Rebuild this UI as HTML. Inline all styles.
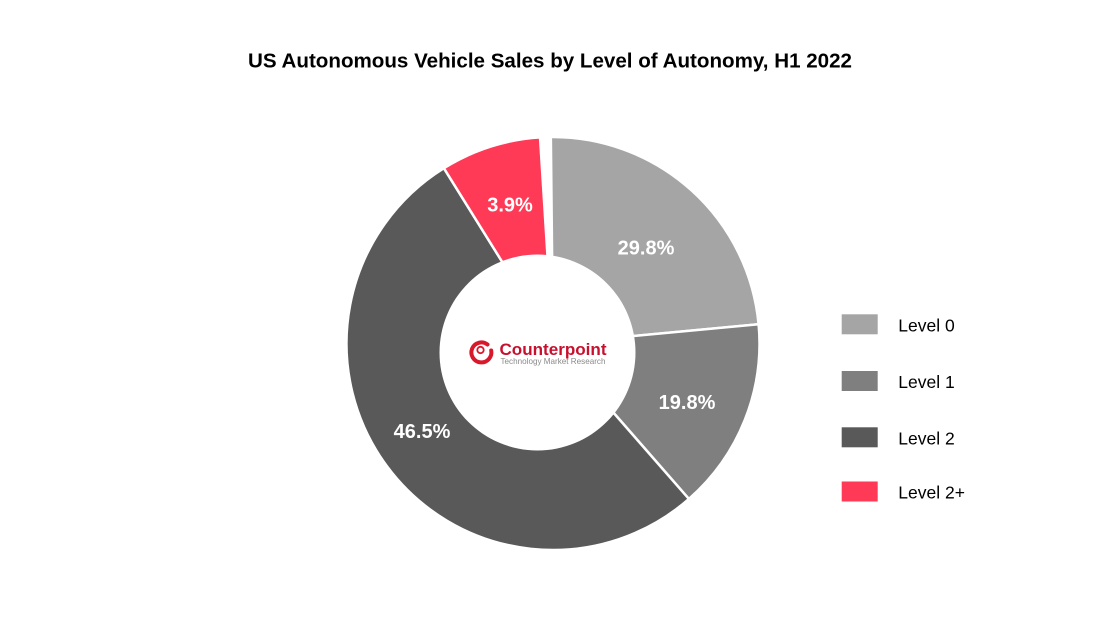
<!DOCTYPE html>
<html>
<head>
<meta charset="utf-8">
<style>
  html,body{margin:0;padding:0;background:#fff;}
  svg{display:block;}
  text{font-family:"Liberation Sans", Arial, sans-serif;}
</style>
</head>
<body>
<svg width="1100" height="619" viewBox="0 0 1100 619" xmlns="http://www.w3.org/2000/svg">
  <rect width="1100" height="619" fill="#fff"/>
  <text x="550" y="67.3" text-anchor="middle" font-size="20" font-weight="bold" fill="#000" textLength="604" lengthAdjust="spacingAndGlyphs">US Autonomous Vehicle Sales by Level of Autonomy, H1 2022</text>

  <g stroke="#fff" stroke-width="2.5" stroke-linejoin="miter">
    <path d="M553,343.5 L550.84,137.01 A206.5,206.5 0 0 1 758.60,324.28 Z" fill="#A5A5A5"/>
    <path d="M553,343.5 L758.60,324.28 A206.5,206.5 0 0 1 688.91,498.97 Z" fill="#7F7F7F"/>
    <path d="M553,343.5 L688.91,498.97 A206.5,206.5 0 1 1 443.88,168.19 Z" fill="#595959"/>
    <path d="M553,343.5 L443.88,168.19 A206.5,206.5 0 0 1 540.03,137.41 Z" fill="#FF3A57"/>
  </g>
  <circle cx="537.5" cy="352.5" r="98" fill="#fff"/>

  <g font-size="20" font-weight="bold" fill="#fff" text-anchor="middle">
    <text x="646" y="254.5">29.8%</text>
    <text x="510" y="211.5">3.9%</text>
    <text x="687" y="409">19.8%</text>
    <text x="422" y="438">46.5%</text>
  </g>

  <!-- logo -->
  <g>
    <path d="M487.5,344.5 A10,10 0 1 0 491.2,350.5" fill="none" stroke="#D9182B" stroke-width="4" stroke-linecap="round"/>
    <circle cx="480.5" cy="350" r="3.2" fill="none" stroke="#D9182B" stroke-width="1.8"/>
    <text x="499.5" y="355" font-size="17" font-weight="bold" fill="#C8102E" textLength="107" lengthAdjust="spacingAndGlyphs">Counterpoint</text>
    <text x="500.5" y="364" font-size="8.5" fill="#8A8A8A" textLength="105" lengthAdjust="spacingAndGlyphs">Technology Market Research</text>
  </g>

  <!-- legend -->
  <rect x="841.7" y="314.3" width="36" height="20" fill="#A5A5A5"/>
  <rect x="841.7" y="371" width="36" height="20" fill="#7F7F7F"/>
  <rect x="841.7" y="427.3" width="36" height="20" fill="#595959"/>
  <rect x="841.7" y="481.5" width="36" height="20" fill="#FF3A57"/>
  <g font-size="17.5" fill="#000">
    <text x="898.3" y="331.5">Level 0</text>
    <text x="898.3" y="388">Level 1</text>
    <text x="898.3" y="444.5">Level 2</text>
    <text x="898.3" y="498.5">Level 2+</text>
  </g>
</svg>
</body>
</html>
